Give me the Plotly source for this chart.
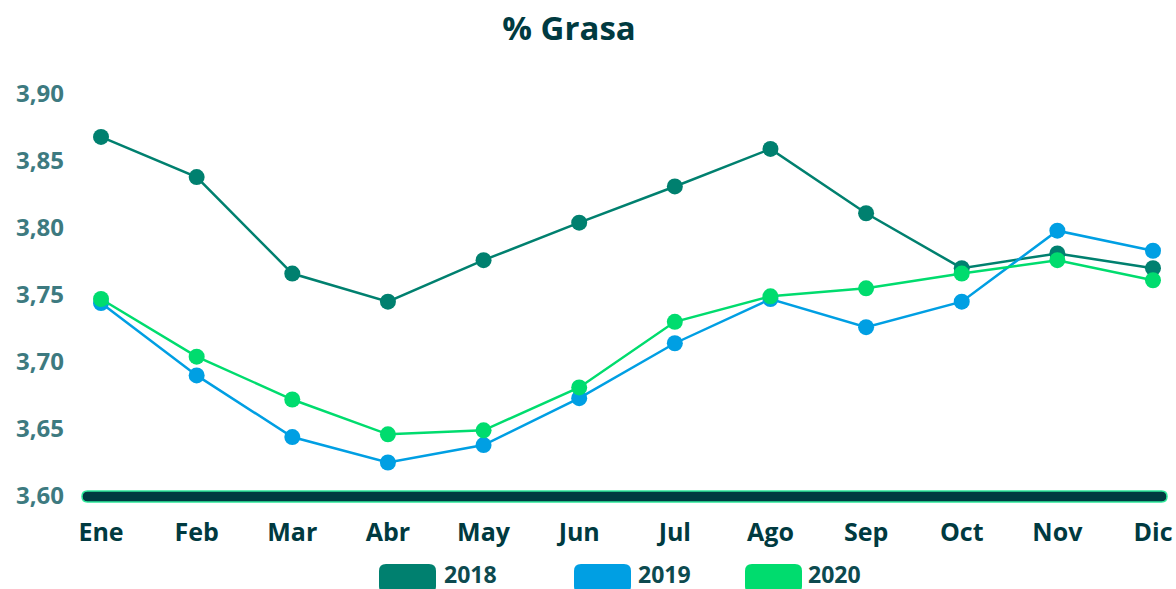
import plotly.graph_objects as go

months = ["Ene", "Feb", "Mar", "Abr", "May", "Jun", "Jul", "Ago", "Sep", "Oct", "Nov", "Dic"]
v2018 = [3.868, 3.838, 3.766, 3.745, 3.776, 3.804, 3.831, 3.859, 3.811, 3.770, 3.781, 3.770]
v2019 = [3.744, 3.690, 3.644, 3.625, 3.638, 3.673, 3.714, 3.747, 3.726, 3.745, 3.798, 3.783]
v2020 = [3.747, 3.704, 3.672, 3.646, 3.649, 3.681, 3.730, 3.749, 3.755, 3.766, 3.776, 3.761]
series = [("2018", v2018, "#00806f"), ("2019", v2019, "#009fe3"), ("2020", v2020, "#00dc6e")]
y_ticks = [3.60, 3.65, 3.70, 3.75, 3.80, 3.85, 3.90]

W, H = 1176, 589
L, R, T, B = 82, 1166, 94, 496
FONT = "Open Sans"
DARK = "#003a40"

def px_x(px):
    return (px - L) / (R - L)

def px_y(py):
    return (B - py) / (B - T)

def rrect(x0, y0, x1, y1, r):
    return (f"M {px_x(x0 + r)},{px_y(y0)} L {px_x(x1 - r)},{px_y(y0)} "
            f"Q {px_x(x1)},{px_y(y0)} {px_x(x1)},{px_y(y0 + r)} "
            f"L {px_x(x1)},{px_y(y1 - r)} Q {px_x(x1)},{px_y(y1)} {px_x(x1 - r)},{px_y(y1)} "
            f"L {px_x(x0 + r)},{px_y(y1)} Q {px_x(x0)},{px_y(y1)} {px_x(x0)},{px_y(y1 - r)} "
            f"L {px_x(x0)},{px_y(y0 + r)} Q {px_x(x0)},{px_y(y0)} {px_x(x0 + r)},{px_y(y0)} Z")

fig = go.Figure()
for name, vals, col in series:
    fig.add_trace(go.Scatter(
        x=months, y=vals, name=name, mode="lines+markers",
        line=dict(color=col, width=2.5),
        marker=dict(color=col, size=16),
        showlegend=False, cliponaxis=False,
    ))

shapes = []
shapes.append(dict(type="path", xref="paper", yref="paper",
                   path=rrect(82, 491, 1167, 502, 5.5),
                   fillcolor=DARK, line=dict(color="#2ee89a", width=1.5), layer="below"))

annotations = []
legend_pos = [(379, 436, 443), (574, 631, 637), (745, 802, 807)]
for (name, vals, col), (bx0, bx1, tx) in zip(series, legend_pos):
    shapes.append(dict(type="path", xref="paper", yref="paper",
                       path=rrect(bx0, 564, bx1, 593, 7),
                       fillcolor=col, line=dict(width=0)))
    annotations.append(dict(text=name, xref="paper", yref="paper",
                            x=px_x(tx), y=px_y(574), xanchor="left", yanchor="middle",
                            showarrow=False, borderpad=0,
                            font=dict(family=FONT, size=23, color="#0d4a4f", weight="bold")))

fig.update_layout(
    width=W, height=H, autosize=False,
    margin=dict(l=L, r=W - R, t=T, b=H - B),
    paper_bgcolor="white", plot_bgcolor="white",
    separators=",.",
    title=dict(text="% Grasa", x=569 / W, xref="container", xanchor="center",
               y=1 - 28 / H, yref="container", yanchor="middle",
               font=dict(family=FONT, size=33, color=DARK, weight="bold")),
    xaxis=dict(type="category", range=[-0.199, 11.136], showgrid=False, zeroline=False,
               showline=False, ticks="", ticklabelstandoff=19, automargin=False,
               tickfont=dict(family=FONT, size=25, color=DARK, weight="bold")),
    yaxis=dict(range=[3.6, 3.9], tickvals=y_ticks, tickformat=".2f", showgrid=False,
               zeroline=False, showline=False, ticks="", ticklabelstandoff=17, automargin=False,
               tickfont=dict(family=FONT, size=24, color="#3d7a80", weight="bold")),
    shapes=shapes, annotations=annotations,
)

fig.write_html("out.html", config={"displayModeBar": False},
               post_script="document.body.style.margin='0';document.body.style.overflow='hidden';")
